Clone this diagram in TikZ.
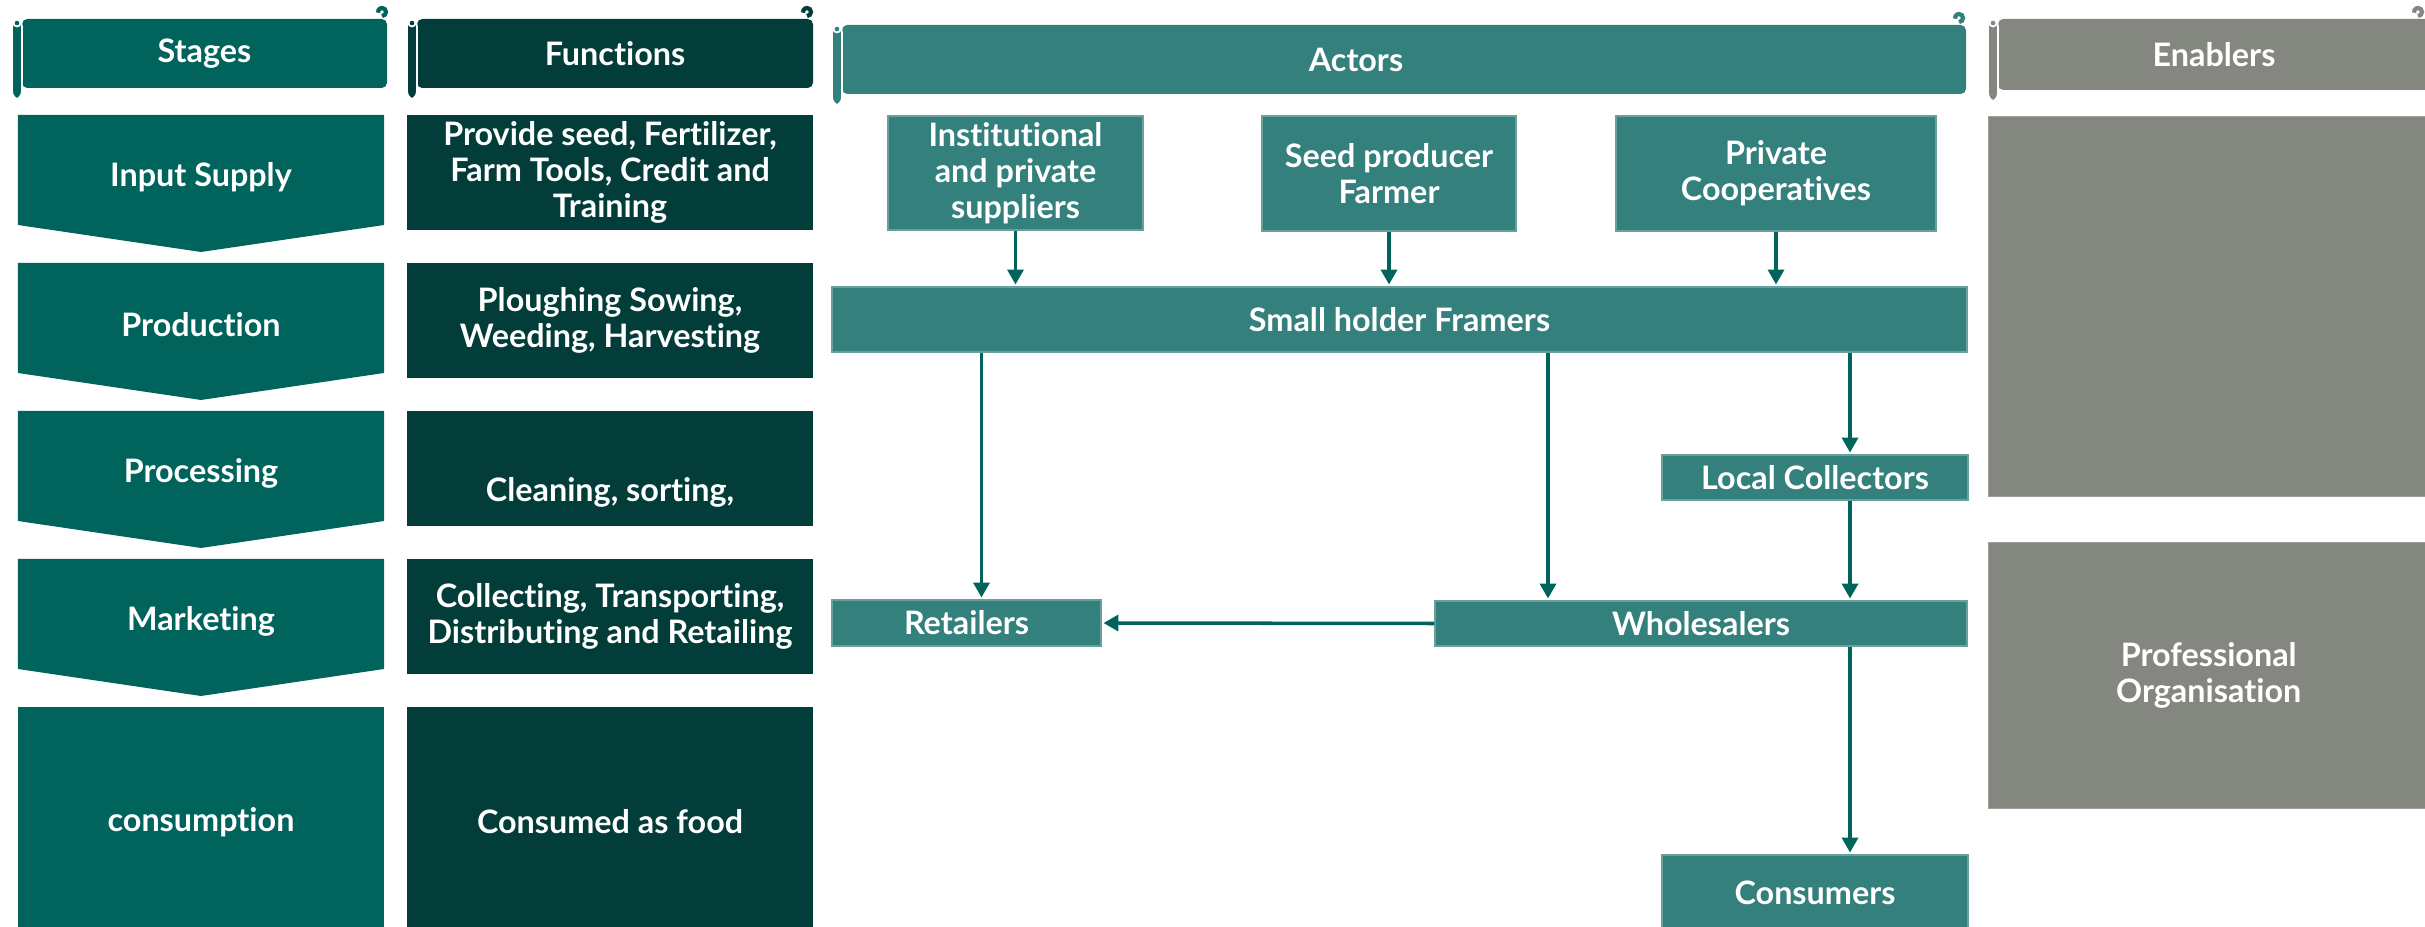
\documentclass[tikz,border=0pt]{standalone}
\usepackage{fontspec}
\setmainfont{Lato}[Ligatures=NoCommon]
\usetikzlibrary{arrows.meta}
\usetikzlibrary{positioning}
\usetikzlibrary{calc}

\definecolor{stagecol}{HTML}{00645D}
\definecolor{funccol}{HTML}{033D3A}
\definecolor{actorcol}{HTML}{34807C}
\definecolor{enabcol}{HTML}{84877F}

\begin{document}
\begin{tikzpicture}[every node/.style={text=white, font=\fontsize{9.2}{10.2}\selectfont\bfseries,
align=center, inner sep=0pt},
head/.style={rectangle, rounded corners=1.5pt, minimum height=0.69cm},
func/.style={rectangle, fill=funccol, minimum width=4.06cm, minimum height=1.15cm},
actor/.style={rectangle, fill=actorcol, draw=actorcol!75!white, line width=0.4pt},
enab/.style={rectangle, fill=enabcol, draw=enabcol!80!white, line width=0.4pt,
minimum width=4.40cm, anchor=north west},
flow/.style={draw=stagecol, line width=1pt, shorten >=0.5pt,
-{Triangle[width=0.16cm,length=0.15cm]}}]
\clip (0,0) rectangle (24.25,-9.27);

% column headers
\node[head, fill=stagecol, minimum width=3.65cm] (hst) at (2.045,-0.535) {Stages};
\node[head, fill=funccol, minimum width=3.96cm] (hfn) at (6.15,-0.535) {Functions};
\node[head, fill=actorcol, minimum width=11.24cm, label={[xshift=-0.48cm]center:Actors}]
(hac) at (14.04,-0.595) {};
\node[head, fill=enabcol, minimum width=4.32cm, minimum height=0.71cm] (hen) at (22.14,-0.545)
{Enablers};
\foreach \x/\yt/\yb/\xe/\c in {0.12/0.18/1.00/3.84/stagecol, 4.07/0.18/1.00/8.09/funccol,
8.32/0.24/1.06/19.61/actorcol, 19.88/0.18/1.02/24.20/enabcol}{
\filldraw[fill=\c, draw=white, line width=0.5pt, rounded corners=2.5pt]
(\x,-\yt) rectangle (\x+0.10,-\yb);
\draw[white, line width=0.5pt] (\x+0.05,-\yt-0.05) circle (0.035);
\draw[\c, line width=1.2pt] (\xe-0.02,-\yt+0.02) arc (-90:190:0.04);}

% stages
\foreach \i/\name/\txt in {0/st1/Input Supply, 1/st2/Production, 2/st3/Processing,
3/st4/Marketing}{
\pgfmathsetmacro\t{-1.15-1.48*\i}
\fill[stagecol] (0.18,\t) -- (3.84,\t) -- (3.84,\t-1.10) -- (2.01,\t-1.37)
-- (0.18,\t-1.10) -- cycle;
\node (\name) at (2.01,\t-0.62) {\txt};}
\node[fill=stagecol, minimum width=3.66cm, minimum height=2.3cm] (st5) at (2.01,-8.22)
{consumption};

% functions
\foreach \i/\name/\txt in {0/fn1/{Provide seed, Fertilizer,\\ Farm Tools, Credit and\\ Training},
1/fn2/{Ploughing Sowing,\\ Weeding, Harvesting},
3/fn4/{Collecting, Transporting,\\ Distributing and Retailing}}{
\node[func] (\name) at (6.10,-1.725-1.48*\i) {\txt};}
\node[func, label={[yshift=-0.24cm]center:{Cleaning, sorting,}}] (fn3) at (6.10,-4.685) {};
\node[func, minimum height=2.3cm] (fn5) at (6.10,-8.22) {Consumed as food};

% actors
\node[actor, minimum width=2.55cm, minimum height=1.14cm] (inst) at (10.155,-1.73)
{Institutional\\ and private\\ suppliers};
\node[actor, minimum width=2.54cm, minimum height=1.15cm] (seed) at (13.89,-1.735)
{Seed producer\\ Farmer};
\node[actor, minimum width=3.20cm, minimum height=1.15cm] (coop) at (17.76,-1.735)
{Private\\ Cooperatives};
\node[actor, minimum width=11.35cm, minimum height=0.65cm] (sh) at (13.995,-3.195)
{Small holder Framers};
\node[actor, minimum width=3.06cm, minimum height=0.45cm] (lc) at (18.15,-4.775)
{Local Collectors};
\node[actor, minimum width=5.32cm, minimum height=0.45cm] (wh) at (17.01,-6.235)
{Wholesalers};
\node[actor, minimum width=2.69cm, minimum height=0.46cm] (rt) at (9.665,-6.23)
{Retailers};
\node[actor, minimum width=3.06cm, minimum height=0.76cm] (cons) at (18.15,-8.93)
{Consumers};

% enablers
\node[enab, minimum height=3.80cm] (en1) at (19.88,-1.16) {};
\node[enab, minimum height=2.66cm] (en2) at (19.88,-5.42) {Professional\\ Organisation};

% flows
\foreach \a in {inst, seed, coop}{
\draw[flow] (\a.south) -- (\a.south |- sh.north);}
\draw[flow] ([xshift=0.15cm]rt.north |- sh.south) -- ([xshift=0.15cm]rt.north);
\draw[flow] ([xshift=-1.53cm]wh.north |- sh.south) -- ([xshift=-1.53cm]wh.north);
\draw[flow] ([xshift=0.35cm]lc.north |- sh.south) -- ([xshift=0.35cm]lc.north);
\draw[flow] ([xshift=0.35cm]lc.south) -- ([xshift=0.35cm]lc.south |- wh.north);
\draw[flow] ([xshift=0.35cm]cons.north |- wh.south) -- ([xshift=0.35cm]cons.north);
\draw[flow] (wh.west) -- (rt.east);
\end{tikzpicture}
\end{document}
